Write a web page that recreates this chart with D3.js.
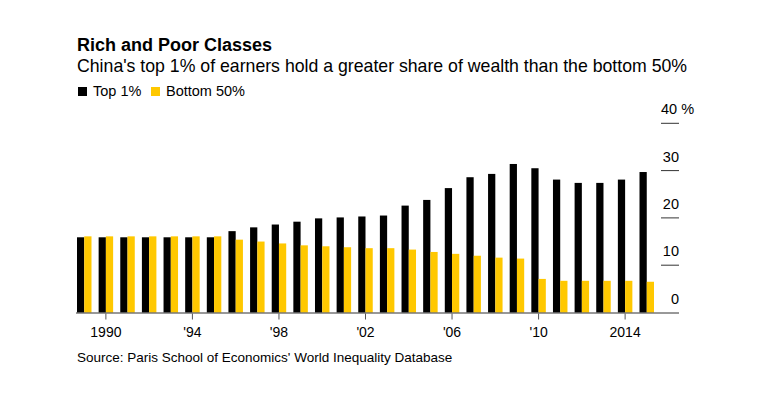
<!DOCTYPE html>
<html>
<head>
<meta charset="utf-8">
<script src="https://cdn.jsdelivr.net/npm/d3@7"></script>
<style>
  body { margin: 0; background: #fff; }
  text { font-family: "Liberation Sans", Arial, sans-serif; }
</style>
</head>
<body>
<div id="chart"></div>
<script>
var years = d3.range(1989, 2016);
var top1 = [15.9, 15.9, 15.9, 15.9, 15.9, 15.9, 15.9, 17.2, 18.0, 18.6, 19.2,
            19.9, 20.1, 20.3, 20.5, 22.6, 23.8, 26.3, 28.6, 29.3, 31.4, 30.5,
            28.1, 27.4, 27.4, 28.1, 29.7];
var bottom50 = [16.1, 16.1, 16.1, 16.1, 16.1, 16.1, 16.1, 15.4, 15.0, 14.6, 14.2,
                14.0, 13.8, 13.6, 13.6, 13.3, 12.8, 12.4, 12.0, 11.6, 11.4, 7.1,
                6.7, 6.7, 6.7, 6.7, 6.5];
var xTicks = [1990, 1994, 1998, 2002, 2006, 2010, 2014];
var xTickLabels = ["1990", "'94", "'98", "'02", "'06", "'10", "2014"];
var yTicks = [0, 10, 20, 30, 40];
var seriesNames = ["Top 1%", "Bottom 50%"];
var colors = ["#000000", "#ffc800"];

var width = 773, height = 396;

var svg = d3.select("#chart")
    .append("svg")
    .attr("width", width)
    .attr("height", height);

var x = d3.scaleBand()
    .domain(years)
    .range([77, 654])
    .paddingInner(0.33)
    .paddingOuter(0);

var y = d3.scaleLinear()
    .domain([0, 40])
    .range([312.5, 123.3]);

// title + subtitle
svg.append("text")
    .attr("x", 77).attr("y", 51)
    .attr("font-size", 18).attr("font-weight", "bold")
    .text("Rich and Poor Classes");
svg.append("text")
    .attr("x", 77).attr("y", 72)
    .attr("font-size", 17.7)
    .text("China's top 1% of earners hold a greater share of wealth than the bottom 50%");

// legend
var legX = [78, 151];
seriesNames.forEach(function(name, i) {
    svg.append("rect")
        .attr("x", legX[i]).attr("y", 87)
        .attr("width", 9).attr("height", 9)
        .attr("fill", colors[i]);
    svg.append("text")
        .attr("x", legX[i] + 15).attr("y", 96)
        .attr("font-size", 14.5)
        .text(name);
});

// y axis: short rules at right with labels sitting above
var yAxis = svg.selectAll(".ytick")
    .data(yTicks)
    .enter()
    .append("g")
    .attr("class", "ytick");
yAxis.filter(function(d) { return d > 0; })
    .append("line")
    .attr("x1", 661).attr("x2", 679)
    .attr("y1", function(d) { return y(d); })
    .attr("y2", function(d) { return y(d); })
    .attr("stroke", "#333")
    .attr("stroke-width", 1);
yAxis.append("text")
    .attr("x", 679)
    .attr("y", function(d) { return y(d) - 9; })
    .attr("text-anchor", "end")
    .attr("font-size", 14.5)
    .text(function(d) { return d === 40 ? "" : d; });
svg.append("text")
    .attr("x", 661).attr("y", y(40) - 9)
    .attr("font-size", 14.5)
    .text("40 %");

// bars
var half = x.bandwidth() / 2;
svg.selectAll(".barTop")
    .data(years)
    .enter()
    .append("rect")
    .attr("class", "barTop")
    .attr("x", function(d) { return x(d); })
    .attr("width", half)
    .attr("y", function(d, i) { return y(top1[i]); })
    .attr("height", function(d, i) { return y(0) - y(top1[i]); })
    .attr("fill", colors[0]);

svg.selectAll(".barBottom")
    .data(years)
    .enter()
    .append("rect")
    .attr("class", "barBottom")
    .attr("x", function(d) { return x(d) + half; })
    .attr("width", half)
    .attr("y", function(d, i) { return y(bottom50[i]); })
    .attr("height", function(d, i) { return y(0) - y(bottom50[i]); })
    .attr("fill", colors[1]);

// baseline
svg.append("line")
    .attr("x1", 76).attr("x2", 679)
    .attr("y1", y(0) + 0.5).attr("y2", y(0) + 0.5)
    .attr("stroke", "#333");

// x ticks
var xAxis = svg.selectAll(".xtick")
    .data(xTicks)
    .enter()
    .append("g")
    .attr("class", "xtick")
    .attr("transform", function(d) { return "translate(" + (x(d) + half) + ",0)"; });
xAxis.append("line")
    .attr("y1", y(0) + 1).attr("y2", y(0) + 7)
    .attr("stroke", "#555");
xAxis.append("text")
    .attr("y", 337)
    .attr("text-anchor", "middle")
    .attr("font-size", 14)
    .text(function(d, i) { return xTickLabels[i]; });

// source
svg.append("text")
    .attr("x", 77).attr("y", 362)
    .attr("font-size", 13.5)
    .text("Source: Paris School of Economics' World Inequality Database");
</script>
</body>
</html>
